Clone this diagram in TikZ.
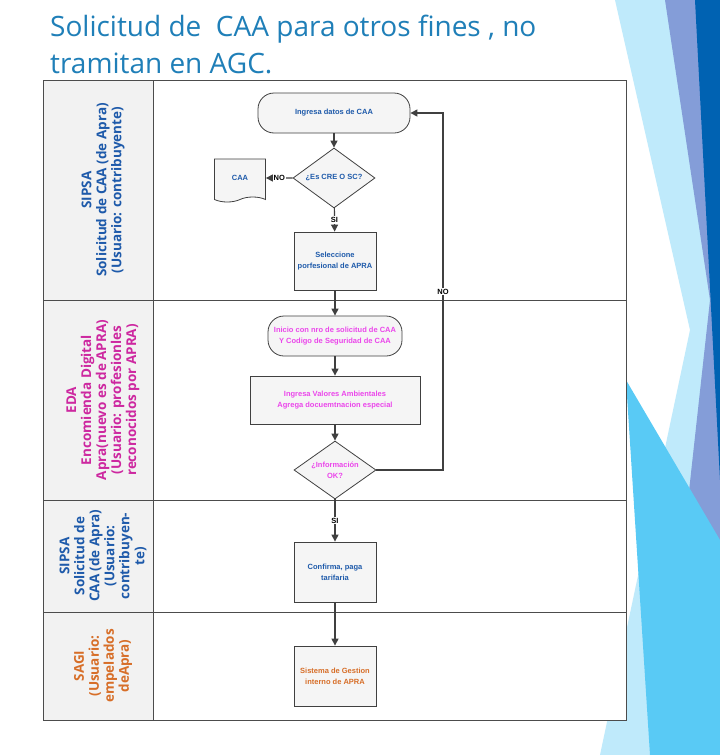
\documentclass[tikz,border=0pt]{standalone}
\usepackage{fontspec}
\setmainfont{Open Sans}
\newfontfamily\nodefont{Liberation Sans}
\usetikzlibrary{shapes.geometric,shapes.symbols,arrows.meta}
\definecolor{titleColor}{RGB}{31,127,184}
\definecolor{blueText}{RGB}{30,90,170}
\definecolor{pinkText}{RGB}{235,70,235}
\definecolor{pinkLane}{RGB}{205,40,160}
\definecolor{orangeText}{RGB}{215,110,40}
\definecolor{laneGray}{gray}{0.95}
\definecolor{boxGray}{gray}{0.96}
\tikzset{
  procbox/.style={draw=black!75,fill=boxGray,line width=0.8pt,align=center,font=\nodefont\bfseries\fontsize{7.5}{11}\selectfont,inner sep=2pt},
  roundbox/.style={procbox,rounded corners=16pt},
  decision/.style={procbox,diamond,aspect=1.4,inner sep=0pt},
  docbox/.style={procbox,tape,tape bend top=none,inner sep=6pt},
  flow/.style={draw=black!75,line width=1.2pt,-{Triangle[length=7pt,width=7pt]}},
  lanelabel/.style={rotate=90,align=center,font=\fontsize{13.5}{15}\selectfont\bfseries},
  flowlabel/.style={font=\nodefont\bfseries\fontsize{7.5}{10}\selectfont,fill=white,inner sep=1pt}
}
\begin{document}
\begin{tikzpicture}[x=1pt,y=-1pt]
\path[use as bounding box,fill=white] (0,0) rectangle (720,755);
% decorative background
\fill[cyan!25] (615,0) -- (720,0) -- (720,755) -- (600,755) -- (690,330) -- cycle;
\fill[cyan!40!blue!50] (665,0) -- (720,0) -- (720,755) -- (660,755) -- (710,300) -- cycle;
\fill[blue!45!cyan!70!black] (695,0) -- (720,0) -- (720,480) -- cycle;
\fill[cyan!65] (626,380) -- (720,540) -- (720,755) -- (650,755) -- cycle;
% title
\node[anchor=base west,text=titleColor,font=\fontsize{28}{30}\selectfont,inner sep=0pt] (title1) at (50,36) {Solicitud de\ \ CAA para otros fines , no};
\node[anchor=base west,text=titleColor,font=\fontsize{28}{30}\selectfont,inner sep=0pt] (title2) at (50,73) {tramitan en AGC.};
% lanes
\fill[white] (43,80) rectangle (626,720);
\fill[laneGray] (43,80) rectangle (153,720);
\draw[black!70,line width=0.8pt] (43,80) rectangle (626,720);
\draw[black!70,line width=0.8pt] (153,80) -- (153,720);
\foreach \y in {300,500,612}
  \draw[black!70,line width=0.8pt] (43,\y) -- (626,\y);
\node[lanelabel,text=blueText] (laneA) at (103,190) {SIPSA\\Solicitud de CAA (de Apra)\\(Usuario: contribuyente)};
\node[lanelabel,text=pinkLane] (laneB) at (103,400) {EDA\\Encomienda Digital\\Apra(nuevo es de APRA)\\(Usuario: profesionles\\reconocidos por APRA)};
\node[lanelabel,text=blueText] (laneC) at (103,556) {SIPSA\\Solicitud de\\CAA (de Apra)\\(Usuario:\\contribuyen-\\te)};
\node[lanelabel,text=orangeText] (laneD) at (103,666) {SAGI\\(Usuario:\\empelados\\deApra)};
% nodes
\node[roundbox,text=blueText,minimum width=152pt,minimum height=40pt] (ingresa) at (334,113) {Ingresa datos de CAA};
\node[decision,text=blueText,minimum width=82pt,minimum height=60pt] (escre) at (334,178) {¿Es CRE O SC?};
\node[docbox,text=blueText,minimum width=51pt,minimum height=43pt] (caa) at (240,178) {CAA};
\node[procbox,text=blueText,minimum width=82pt,minimum height=58pt] (selec) at (335,261) {Seleccione\\porfesional de APRA};
\node[roundbox,text=pinkText,minimum width=134pt,minimum height=40pt] (inicio) at (335,336) {Inicio con nro de solicitud de CAA\\Y Codigo de Seguridad de CAA};
\node[procbox,text=pinkText,minimum width=170pt,minimum height=48pt] (valores) at (335,400) {Ingresa Valores Ambientales\\Agrega docuemtnacion especial};
\node[decision,text=pinkText,minimum width=82pt,minimum height=58pt] (infook) at (335,470) {¿Información\\OK?};
\node[procbox,text=blueText,minimum width=82pt,minimum height=60pt] (confirma) at (335,572) {Confirma, paga\\tarifaria};
\node[procbox,text=orangeText,minimum width=82pt,minimum height=60pt] (sagi) at (335,676) {Sistema de Gestion\\interno de APRA};
\coordinate (loopA) at (443,470);
\coordinate (loopB) at (443,113);
% connectors
\draw[flow] (ingresa) -- (escre);
\draw[flow] (escre) -- node[flowlabel] {NO} (caa);
\draw[flow] (escre) -- node[flowlabel] {SI} (selec);
\draw[flow] (selec) -- (inicio);
\draw[flow] (inicio) -- (valores);
\draw[flow] (valores) -- (infook);
\draw[flow] (infook.east) -- (loopA) -- node[flowlabel] {NO} (loopB) -- (ingresa.east);
\draw[flow] (infook) -- node[flowlabel] {SI} (confirma);
\draw[flow] (confirma) -- (sagi);
\end{tikzpicture}
\end{document}
